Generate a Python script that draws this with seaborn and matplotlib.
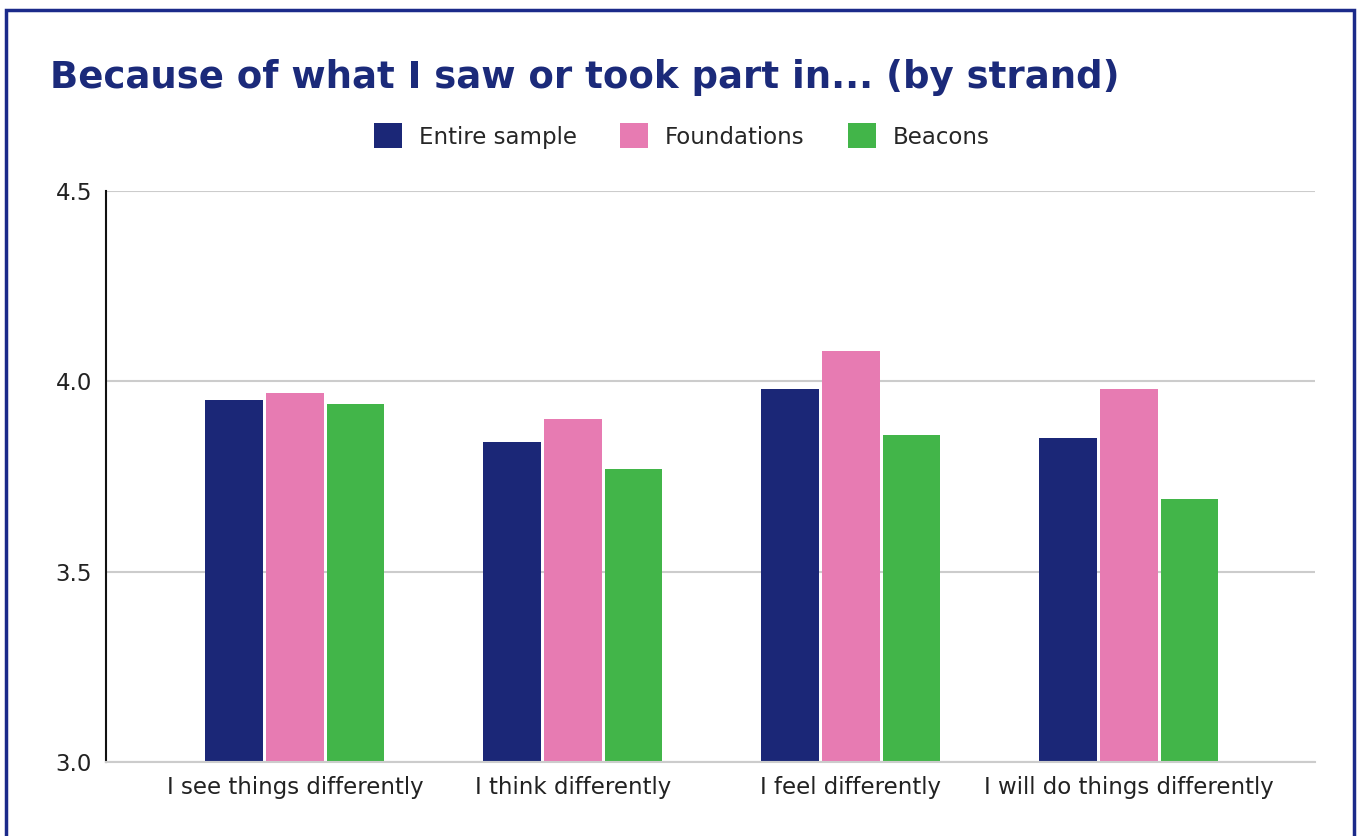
import matplotlib
matplotlib.use("Agg")
import matplotlib.pyplot as plt
import seaborn as sns
import pandas as pd
from matplotlib.patches import Rectangle

categories = ["I see things differently", "I think differently", "I feel differently", "I will do things differently"]
entire_sample = [3.95, 3.84, 3.98, 3.85]
foundations = [3.97, 3.90, 4.08, 3.98]
beacons = [3.94, 3.77, 3.86, 3.69]
series_names = ["Entire sample", "Foundations", "Beacons"]
colors = ["#1B2777", "#E77BB2", "#42B549"]
y_ticks = [3.0, 3.5, 4.0, 4.5]

rows = []
for name, vals in zip(series_names, [entire_sample, foundations, beacons]):
    for c, v in zip(categories, vals):
        rows.append({"category": c, "series": name, "value": v})
df = pd.DataFrame(rows)

sns.set_theme(style="white")
plt.rcParams['font.family'] = ['DejaVu Sans']

fig = plt.figure(figsize=(13.59, 8.36), dpi=100)
ax = fig.add_axes([106/1359, 1 - 762/836, (1315-106)/1359, (762-191)/836])

sns.barplot(data=df, x="category", y="value", hue="series", hue_order=series_names,
            palette=colors, width=0.655, gap=0.05, ax=ax, saturation=1, legend=False)
ax.set_ylim(3.0, 4.5)
ax.set_xlim(-0.68, 3.67)
ax.set_yticks(y_ticks)
ax.set_yticklabels([f"{t:.1f}" for t in y_ticks], fontsize=16.5, color="#222222")
ax.tick_params(axis="x", labelsize=16.5, colors="#222222", length=0, pad=10)
ax.tick_params(axis="y", length=0, pad=10)
ax.set_xlabel("")
ax.set_ylabel("")
ax.yaxis.grid(True, color="#CCCCCC", linewidth=1.5)
ax.set_axisbelow(True)
for s in ["top", "right"]:
    ax.spines[s].set_visible(False)
ax.spines["left"].set_color("#111111")
ax.spines["left"].set_linewidth(1.5)
ax.spines["bottom"].set_color("#CCCCCC")
ax.spines["bottom"].set_linewidth(1.5)
for p in ax.patches:
    p.set_edgecolor("none")

fig.text(50/1359, 1 - 77/836, "Because of what I saw or took part in... (by strand)",
         fontsize=26.7, fontweight="bold", color="#1B2A7A", va="center", ha="left")

handles = [Rectangle((0, 0), 1, 1, facecolor=c, edgecolor="none") for c in colors]
fig.legend(handles, series_names, loc="center", bbox_to_anchor=(682/1359, 1 - 136/836),
           ncol=3, frameon=False, fontsize=16.5, handlelength=1.2, handleheight=1.3,
           columnspacing=1.9, handletextpad=0.75)

border = Rectangle((6/1359, -0.01), (1354-6)/1359, (836-10)/836 + 0.01, transform=fig.transFigure,
                   fill=False, edgecolor="#1B2A8A", linewidth=2.5)
fig.patches.append(border)

fig.savefig("out.png", dpi=100, facecolor="white")
